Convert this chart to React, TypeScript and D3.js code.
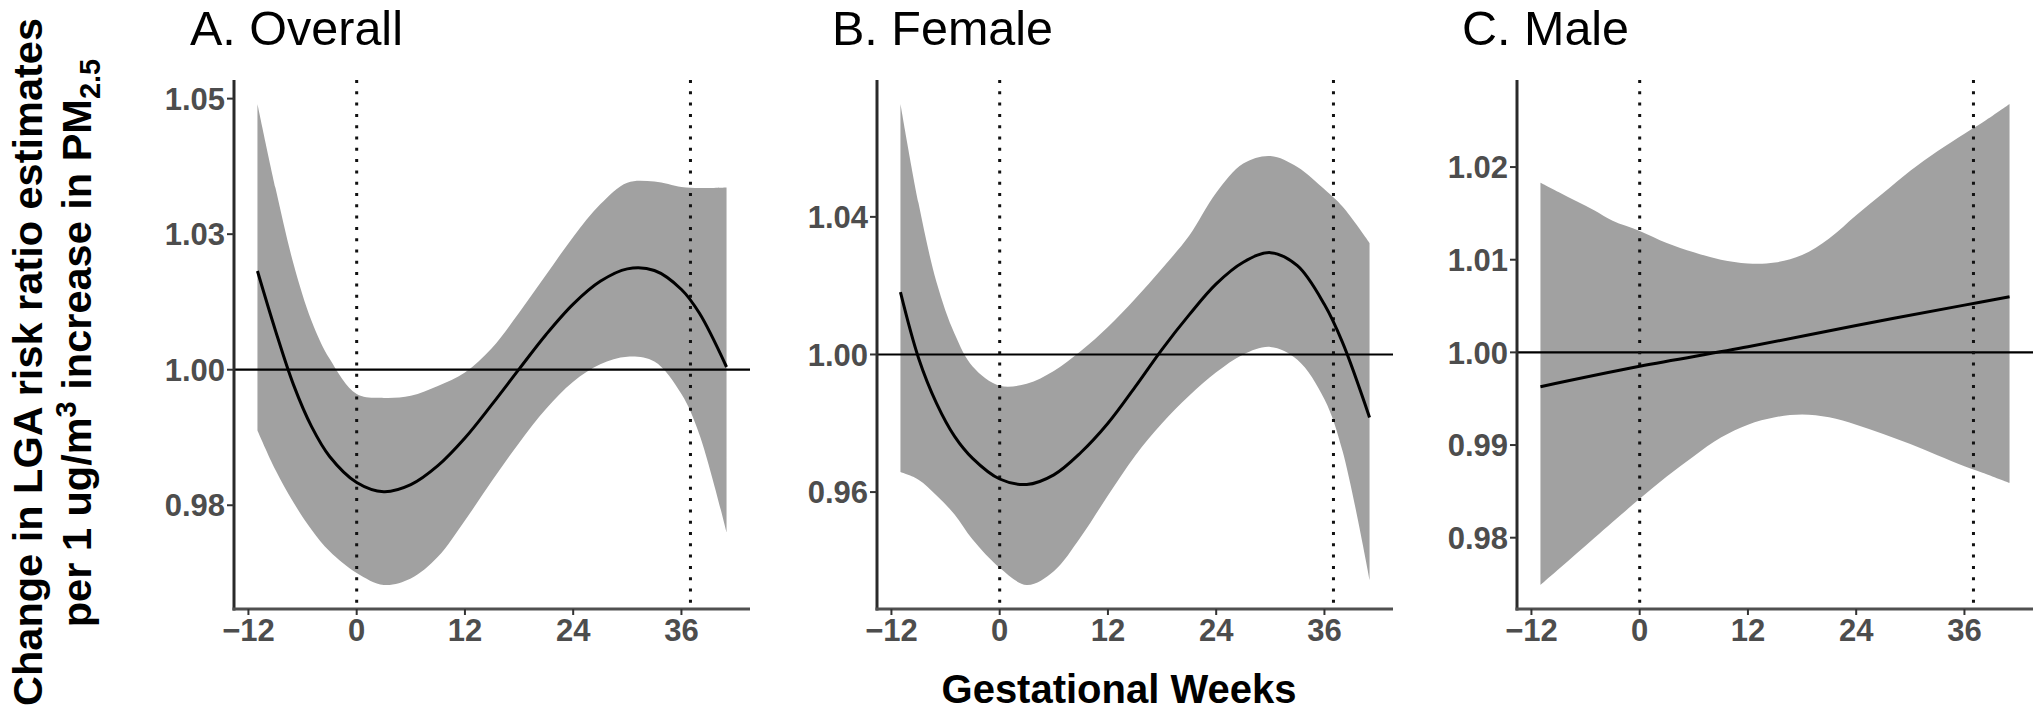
import React from 'react';
import * as d3 from 'd3';

// ---------------- data ----------------
const weeks = [-11, -9, -7, -5, -3, 0, 3, 6, 9, 12, 15, 18, 21, 24, 27, 30, 33, 36, 38, 41];

const fitOverall = [1.0182, 1.0072, 0.9972, 0.9895, 0.984, 0.9792, 0.9775, 0.9788, 0.9823, 0.9874, 0.9936, 1.0001, 1.0065, 1.0121, 1.0163, 1.0186, 1.0183, 1.0148, 1.0104, 1.0005];
const upperOverall = [1.049, 1.0335, 1.0195, 1.009, 1.002, 0.9955, 0.9948, 0.9952, 0.997, 0.9995, 1.004, 1.0105, 1.0175, 1.0245, 1.0305, 1.0345, 1.0347, 1.0337, 1.0335, 1.0336];
const lowerOverall = [0.9888, 0.9815, 0.9755, 0.9705, 0.9665, 0.9625, 0.9603, 0.9615, 0.9655, 0.9722, 0.9795, 0.9865, 0.9928, 0.9978, 1.001, 1.0024, 1.0015, 0.9955, 0.988, 0.97];

const fitFemale = [1.0181, 0.999, 0.9858, 0.9762, 0.9698, 0.9638, 0.9622, 0.965, 0.9715, 0.98, 0.9905, 1.0015, 1.0115, 1.0205, 1.0268, 1.0296, 1.0258, 1.0145, 1.0035, 0.9817];
const upperFemale = [1.0728, 1.044, 1.021, 1.006, 0.9965, 0.9909, 0.9915, 0.9952, 1.001, 1.008, 1.0161, 1.025, 1.0345, 1.047, 1.0555, 1.0577, 1.0545, 1.048, 1.043, 1.0324];
const lowerFemale = [0.9658, 0.9636, 0.959, 0.9535, 0.9462, 0.938, 0.933, 0.937, 0.947, 0.959, 0.9705, 0.98, 0.988, 0.9948, 1.0, 1.0022, 0.9985, 0.987, 0.972, 0.9345];

const fitWeeksMale = [-11, 0, 12, 24, 36, 41];
const fitMale = [0.9963, 0.9985, 1.0006, 1.0029, 1.0051, 1.006];
const upperMale = [1.0183, 1.0173, 1.0163, 1.0153, 1.0142, 1.0131, 1.0118, 1.0108, 1.01, 1.0096, 1.0097, 1.0105, 1.0123, 1.0148, 1.0172, 1.0196, 1.0217, 1.0236, 1.0248, 1.0268];
const lowerMale = [0.9749, 0.9766, 0.9783, 0.98, 0.9817, 0.9842, 0.9866, 0.9888, 0.9908, 0.9922, 0.993, 0.9933, 0.993, 0.9922, 0.9912, 0.9901, 0.9889, 0.9877, 0.987, 0.9859];

const panelTitles = ['A. Overall', 'B. Female', 'C. Male'];

const yTicksOverall = [0.975, 1.0, 1.025, 1.05];
const yLabelsOverall = ['0.98', '1.00', '1.03', '1.05'];
const yTicksFemale = [0.96, 1.0, 1.04];
const yLabelsFemale = ['0.96', '1.00', '1.04'];
const yTicksMale = [0.98, 0.99, 1.0, 1.01, 1.02];
const yLabelsMale = ['0.98', '0.99', '1.00', '1.01', '1.02'];

const xTicks = [-12, 0, 12, 24, 36];
const xTickLabels = ['\u221212', '0', '12', '24', '36'];
const markerWeeks = [0, 37];
const referenceValue = 1;

const xTitle = 'Gestational Weeks';
const yTitleLine1 = 'Change in LGA risk ratio estimates';

// ---------------- layout ----------------
const W = 2040;
const H = 715;
const TOP = 80;
const BOTTOM = 609;
const PANEL_W = 516;
const panelLefts = [234, 877, 1517];
const titleXs = [190, 832, 1462];
const FONT = "'Liberation Sans', Arial, Helvetica, sans-serif";
const BAND = '#a1a1a1';
const TICK_TEXT = '#4d4d4d';

type PanelProps = {
  left: number;
  titleX: number;
  title: string;
  fit: number[];
  fitWeeks: number[];
  lower: number[];
  upper: number[];
  yTicks: number[];
  yLabels: string[];
};

function Panel(p: PanelProps) {
  const wExt = d3.extent(weeks) as [number, number];
  const wPad = (wExt[1] - wExt[0]) * 0.05;
  const x = d3.scaleLinear().domain([wExt[0] - wPad, wExt[1] + wPad]).range([p.left, p.left + PANEL_W]);
  const lo = d3.min(p.lower) as number;
  const hi = d3.max(p.upper) as number;
  const pad = (hi - lo) * 0.05;
  const y = d3.scaleLinear().domain([lo - pad, hi + pad]).range([BOTTOM, TOP]);

  const idx = weeks.map((_, i) => i);
  const area = d3
    .area<number>()
    .x((i) => x(weeks[i]))
    .y0((i) => y(p.lower[i]))
    .y1((i) => y(p.upper[i]))
    .curve(d3.curveCatmullRom);
  const fitIdx = p.fitWeeks.map((_, i) => i);
  const line = d3
    .line<number>()
    .x((i) => x(p.fitWeeks[i]))
    .y((i) => y(p.fit[i]))
    .curve(d3.curveCatmullRom);

  const [x0, x1] = x.range();
  return (
    <g>
      <text x={p.titleX} y={44.5} fontFamily={FONT} fontSize={48.5} fill="#000">
        {p.title}
      </text>
      <path d={area(idx) || ''} fill={BAND} stroke="none" />
      <line x1={x0} x2={x1} y1={y(referenceValue)} y2={y(referenceValue)} stroke="#000" strokeWidth={2.2} />
      {markerWeeks.map((w) => (
        <line
          key={w}
          x1={x(w)}
          x2={x(w)}
          y1={TOP}
          y2={BOTTOM}
          stroke="#111"
          strokeWidth={3}
          strokeDasharray="3 8.3"
        />
      ))}
      <path d={line(fitIdx) || ''} fill="none" stroke="#000" strokeWidth={3} />
      {/* axes */}
      <line x1={x0} x2={x0} y1={TOP} y2={BOTTOM + 1.5} stroke="#2a2a2a" strokeWidth={3} />
      <line x1={x0 - 1.5} x2={x1} y1={BOTTOM} y2={BOTTOM} stroke="#505050" strokeWidth={3} />
      {p.yTicks.map((t, i) => (
        <g key={t}>
          <line x1={x0 - 7} x2={x0} y1={y(t)} y2={y(t)} stroke="#333" strokeWidth={2} />
          <text
            x={x0 - 9}
            y={y(t)}
            dy="0.36em"
            textAnchor="end"
            fontFamily={FONT}
            fontWeight="bold"
            fontSize={31}
            fill={TICK_TEXT}
          >
            {p.yLabels[i]}
          </text>
        </g>
      ))}
      {xTicks.map((t, i) => (
        <g key={t}>
          <line x1={x(t)} x2={x(t)} y1={BOTTOM} y2={BOTTOM + 6} stroke="#333" strokeWidth={2} />
          <text
            x={x(t)}
            y={641}
            textAnchor="middle"
            fontFamily={FONT}
            fontWeight="bold"
            fontSize={31}
            fill={TICK_TEXT}
          >
            {xTickLabels[i]}
          </text>
        </g>
      ))}
    </g>
  );
}

export default function App() {
  const panels = [
    { fit: fitOverall, fitWeeks: weeks, lower: lowerOverall, upper: upperOverall, yTicks: yTicksOverall, yLabels: yLabelsOverall },
    { fit: fitFemale, fitWeeks: weeks, lower: lowerFemale, upper: upperFemale, yTicks: yTicksFemale, yLabels: yLabelsFemale },
    { fit: fitMale, fitWeeks: fitWeeksMale, lower: lowerMale, upper: upperMale, yTicks: yTicksMale, yLabels: yLabelsMale },
  ];
  return (
    <svg
      width={W}
      height={H}
      viewBox={`0 0 ${W} ${H}`}
      style={{ position: 'absolute', left: 0, top: 0, background: '#fff' }}
    >
      <rect x={0} y={0} width={W} height={H} fill="#fff" />
      {panels.map((d, i) => (
        <Panel key={i} left={panelLefts[i]} titleX={titleXs[i]} title={panelTitles[i]} {...d} />
      ))}
      <text x={1119} y={703} textAnchor="middle" fontFamily={FONT} fontWeight="bold" fontSize={40} fill="#000">
        {xTitle}
      </text>
      <g transform="rotate(-90)">
        <text x={-362} y={42} textAnchor="middle" fontFamily={FONT} fontWeight="bold" fontSize={41.5} fill="#000">
          {yTitleLine1}
        </text>
        <text x={-343} y={91} textAnchor="middle" fontFamily={FONT} fontWeight="bold" fontSize={41.5} fill="#000">
          <tspan>per 1 ug/m</tspan>
          <tspan dy={-15} fontSize={29}>3</tspan>
          <tspan dy={15}> increase in PM</tspan>
          <tspan dy={9} fontSize={29}>2.5</tspan>
        </text>
      </g>
    </svg>
  );
}
